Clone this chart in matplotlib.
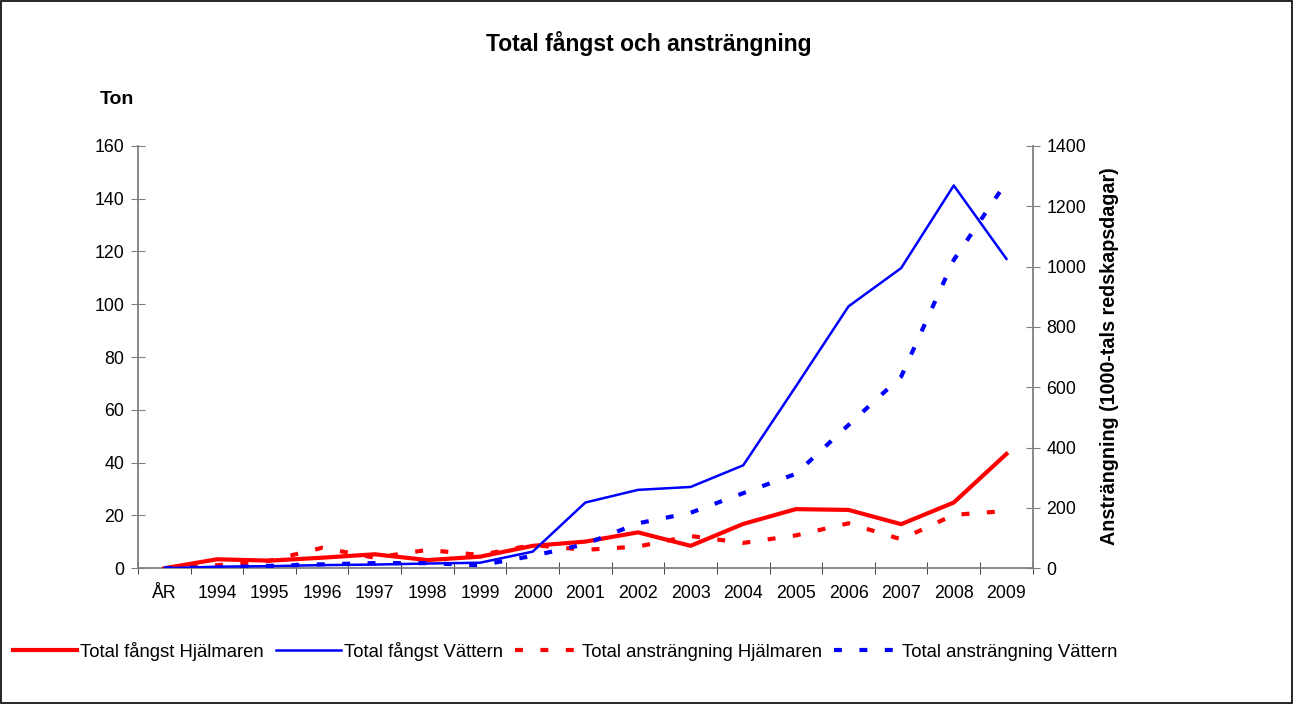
import numpy as np
import matplotlib.pyplot as plt
from matplotlib.patches import Rectangle

plt.rcParams['font.family'] = ['Liberation Sans', 'DejaVu Sans']

years = ['ÅR', '1994', '1995', '1996', '1997', '1998', '1999', '2000', '2001',
         '2002', '2003', '2004', '2005', '2006', '2007', '2008', '2009']

# catch (ton), left axis
fangst_hjalmaren = [0, 3.4, 2.9, 4.0, 5.3, 3.1, 4.4, 8.5, 10.1, 13.6, 8.5, 16.8,
                    22.4, 22.1, 16.7, 24.9, 43.3]
fangst_vattern = [0, 0.6, 0.8, 1.2, 1.4, 1.8, 2.1, 6.3, 24.9, 29.7, 30.8, 39.0,
                  68.9, 99.2, 113.7, 145.0, 117.2]
# effort (1000 gear days), right axis
anstr_hjalmaren = [0, 10, 25, 68, 35, 61, 44, 77, 61, 72, 107, 84, 109, 149, 96,
                   177, 190]
anstr_vattern = [0, 3, 8, 13, 17, 17, 10, 41, 80, 149, 184, 249, 313, 475, 635,
                 1022, 1280]

x = np.arange(len(years))

fig = plt.figure(figsize=(12.93, 7.04), dpi=100)
ax = fig.add_axes([0.1067, 0.1928, 0.692, 0.600])
ax2 = ax.twinx()

l1, = ax.plot(x, fangst_hjalmaren, color='#ff0000', lw=3.0,
              label='Total fångst Hjälmaren', zorder=3)
l2, = ax.plot(x, fangst_vattern, color='#0000ff', lw=1.8,
              label='Total fångst Vättern', zorder=3)
l3, = ax2.plot(x, anstr_hjalmaren, color='#ff0000', lw=3.0, dashes=(1.9, 4.2),
               label='Total ansträngning Hjälmaren')
l4, = ax2.plot(x, anstr_vattern, color='#0000ff', lw=3.0, dashes=(1.9, 4.2),
               label='Total ansträngning Vättern')

ax.set_xlim(-0.5, len(years) - 0.5)
ax.set_ylim(0, 160)
ax2.set_ylim(0, 1400)
ax.set_yticks(np.arange(0, 161, 20))
ax2.set_yticks(np.arange(0, 1401, 200))

ax.set_xticks(x)
ax.set_xticklabels(years)
ax.set_xticks(np.arange(-0.5, len(years), 1), minor=True)
ax.tick_params(axis='x', which='major', length=0, pad=12, labelsize=12.8)
ax.tick_params(axis='x', which='minor', length=9, direction='inout', color='#222222')
ax.tick_params(axis='y', length=10, direction='inout', color='#808080',
               labelsize=12.8, pad=5)
ax2.tick_params(axis='y', length=10, direction='inout', color='#808080',
                labelsize=12.8, pad=5)

for a in (ax, ax2):
    a.spines['top'].set_visible(False)
    for s in ('left', 'right', 'bottom'):
        a.spines[s].set_color('#808080')
        a.spines[s].set_linewidth(1.3)
ax.spines['right'].set_visible(False)
ax2.spines['left'].set_visible(False)
ax2.spines['bottom'].set_visible(False)

fig.text(0.502, 0.9375, 'Total fångst och ansträngning', ha='center', va='center',
         fontsize=16.5, fontweight='bold')
fig.text(0.0905, 0.858, 'Ton', ha='center', va='center', fontsize=14,
         fontweight='bold')
fig.text(0.858, 0.494, 'Ansträngning (1000-tals redskapsdagar)', ha='center',
         va='center', rotation=90, fontsize=14.2, fontweight='bold')

fig.legend(handles=[l1, l2, l3, l4], loc='center', bbox_to_anchor=(0.437, 0.075),
           ncol=4, frameon=False, fontsize=13.3, handlelength=3.5,
           handletextpad=0.16, columnspacing=0.65)

fig.patches.append(Rectangle((0.0008, 0.0014), 0.9984, 0.9972, transform=fig.transFigure,
                             fill=False, edgecolor='black', lw=1.2))

fig.savefig('out.png', dpi=100)
